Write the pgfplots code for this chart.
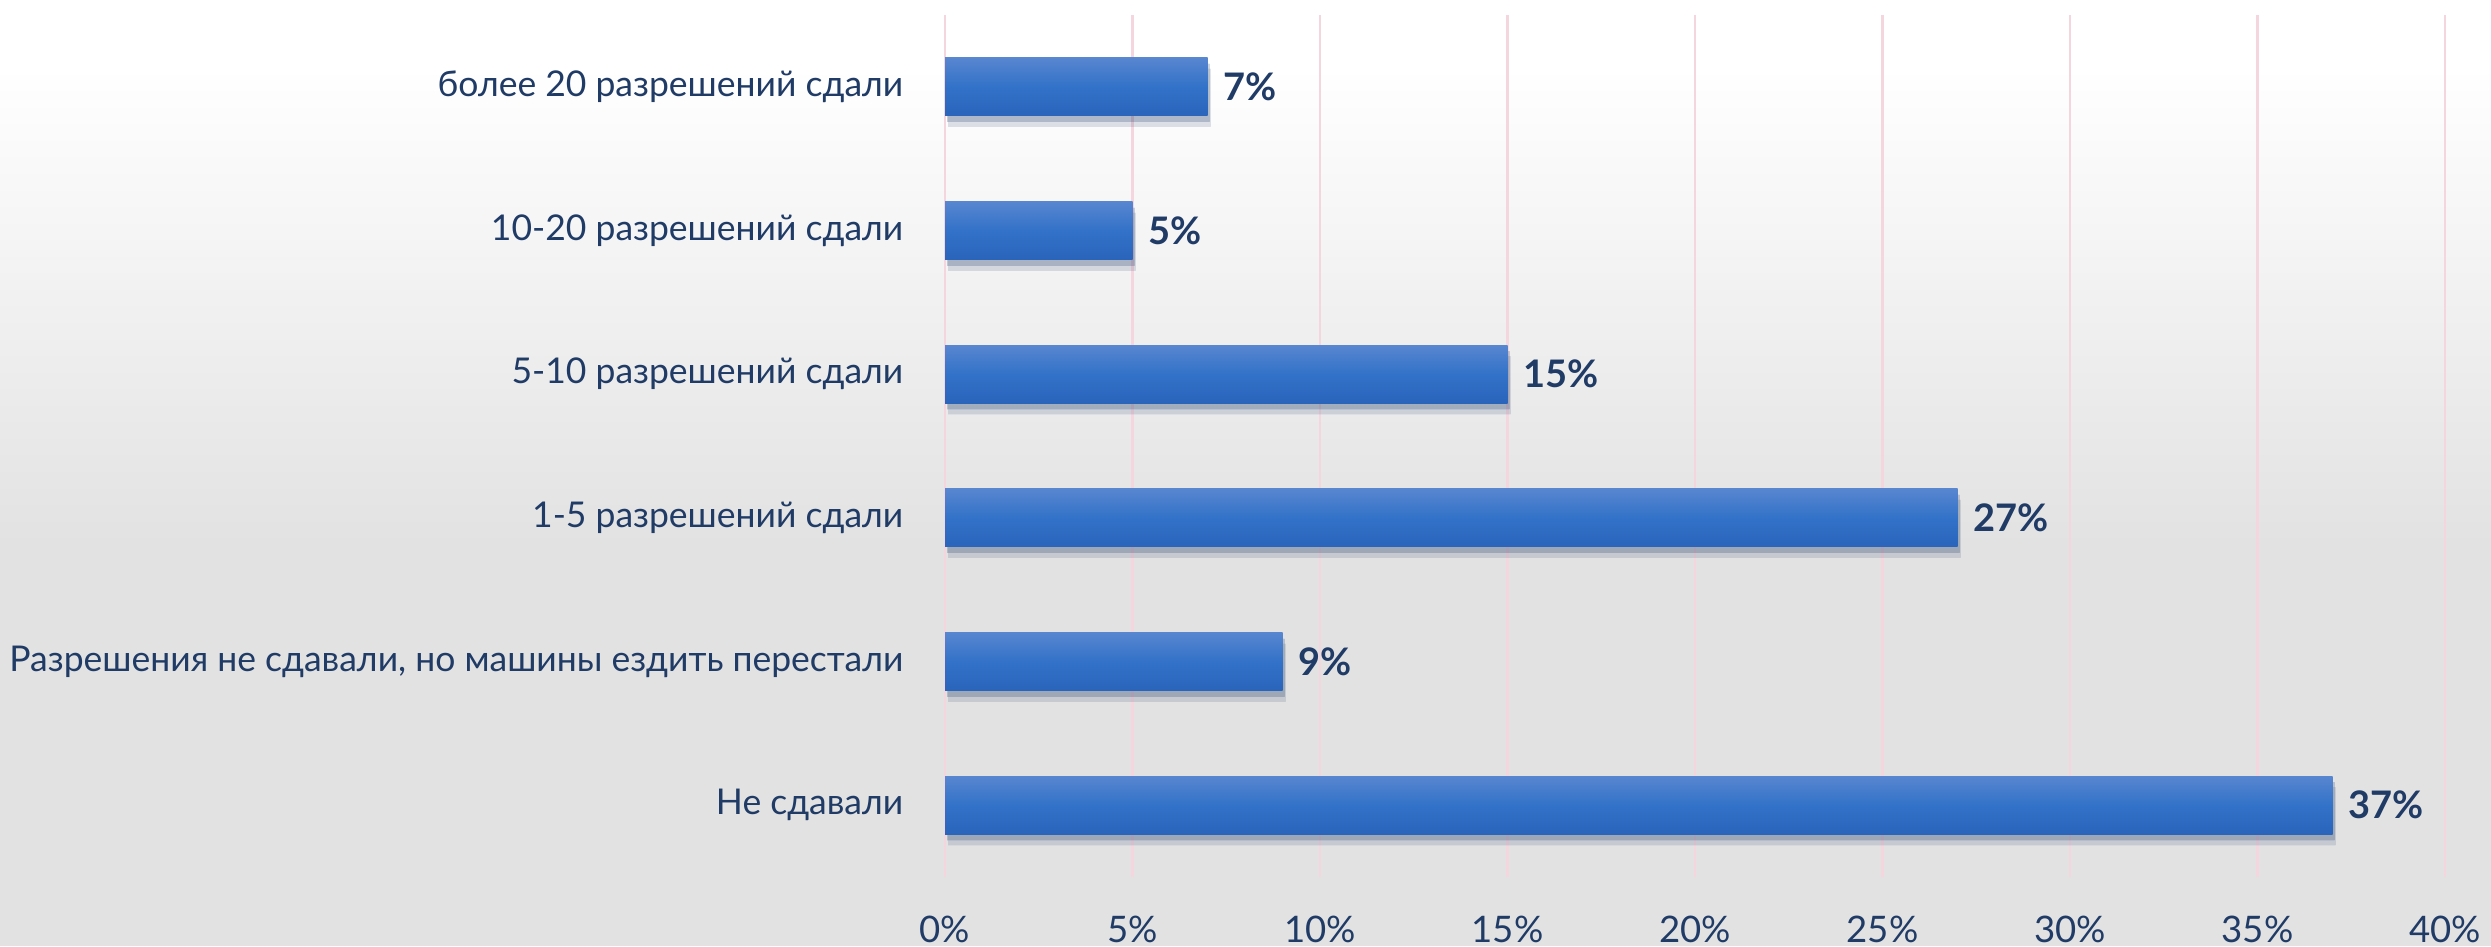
\documentclass[border=0pt]{standalone}
\usepackage{fontspec}
\setmainfont{Lato}
\usepackage{pgfplots}
\pgfplotsset{compat=1.18}
\definecolor{navy}{HTML}{1F3B66}
\definecolor{bgray}{HTML}{E2E2E2}
\definecolor{bartop}{HTML}{5886D0}
\definecolor{barmid}{HTML}{3272C8}
\definecolor{barbot}{HTML}{2A64BB}
\definecolor{gridpink}{HTML}{F5D6DF}
\begin{document}
\begin{tikzpicture}
\useasboundingbox (0,0) rectangle (249.1mm,94.6mm);
\fill[bgray] (0,0) rectangle (249.1mm,40mm);
\shade[top color=white, bottom color=bgray] (0,40mm) rectangle (249.1mm,88mm);
\fill[white] (0,88mm) rectangle (249.1mm,94.6mm);
\begin{axis}[
  at={(94.5mm,6.9mm)}, anchor=south west,
  scale only axis, width=150mm, height=86.2mm,
  xmin=0, xmax=40, ymin=-0.5, ymax=5.5,
  xbar, bar width=5.8mm, bar shift=0pt,
  axis line style={draw=none}, tick style={draw=none},
  xmajorgrids, major grid style={gridpink, line width=0.6pt},
  xtick={0,5,...,40},
  xticklabel={\pgfmathprintnumber{\tick}\%},
  xticklabel style={anchor=center, yshift=-5.2mm, inner sep=0pt, font=\fontsize{10.4}{12}\selectfont, text=navy},
  ytick={0,1,2,3,4,5},
  yticklabels={Не сдавали, {Разрешения не сдавали, но машины ездить перестали}, 1-5 разрешений сдали, 5-10 разрешений сдали, 10-20 разрешений сдали, более 20 разрешений сдали},
  yticklabel style={anchor=east, xshift=-2.6mm, inner sep=0pt, font=\fontsize{10.1}{12}\selectfont, text=navy},
  /pgf/number format/assume math mode=true,
  nodes near coords={\pgfmathprintnumber{\pgfplotspointmeta}\%},
  nodes near coords style={anchor=west, xshift=1.5mm, inner sep=0pt, text=navy, font=\bfseries\fontsize{10.8}{12}\selectfont},
  barstyle/.style={draw=none, top color=bartop, bottom color=barbot, middle color=barmid,
    preaction={fill=black, fill opacity=0.07, transform canvas={xshift=0.3mm, yshift=-1.1mm}},
    preaction={fill=black, fill opacity=0.12, transform canvas={xshift=0.2mm, yshift=-0.6mm}}},
]
\addplot[barstyle] coordinates {(37,0)};
\addplot[barstyle] coordinates {(9,1)};
\addplot[barstyle] coordinates {(27,2)};
\addplot[barstyle] coordinates {(15,3)};
\addplot[barstyle] coordinates {(5,4)};
\addplot[barstyle] coordinates {(7,5)};
\end{axis}
\end{tikzpicture}
\end{document}
